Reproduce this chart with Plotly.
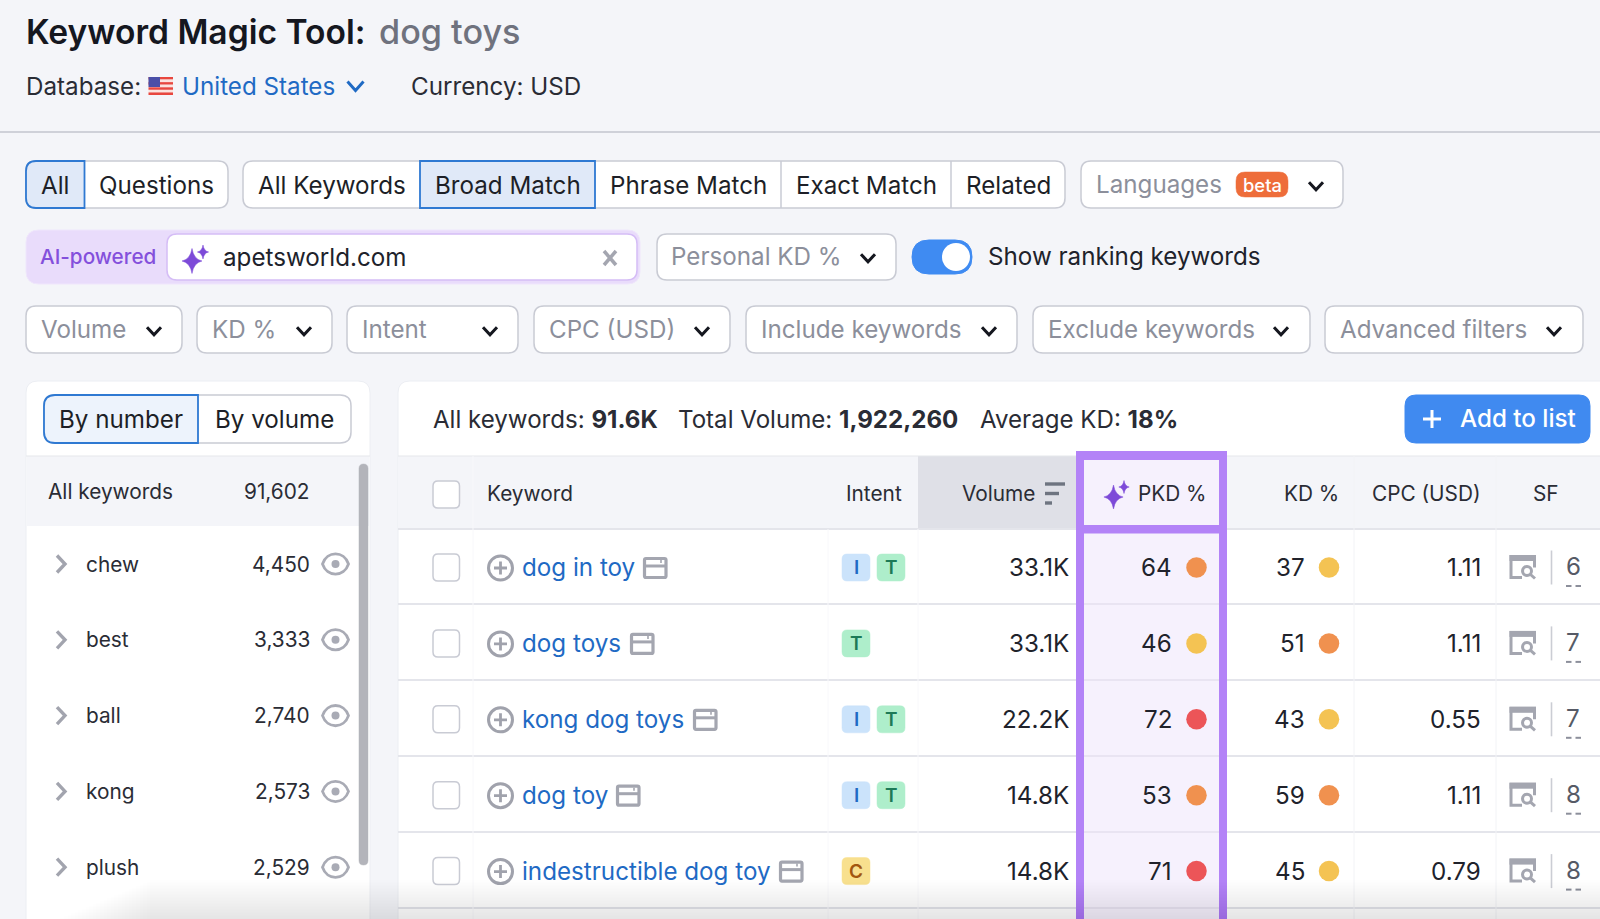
import plotly.graph_objects as go

# ---------- data ----------
keywords = ["dog in toy", "dog toys", "kong dog toys", "dog toy", "indestructible dog toy"]
intents = [["I", "T"], ["T"], ["I", "T"], ["I", "T"], ["C"]]
volumes = ["33.1K", "33.1K", "22.2K", "14.8K", "14.8K"]
pkd_values = [64, 46, 72, 53, 71]
kd_values = [37, 51, 43, 59, 45]
cpc_values = ["1.11", "1.11", "0.55", "1.11", "0.79"]
sf_values = [6, 7, 7, 8, 8]
group_names = ["chew", "best", "ball", "kong", "plush"]
group_counts = ["4,450", "3,333", "2,740", "2,573", "2,529"]
keyword_text_ends = [644, 631, 694, 617, 780]

F = "Inter"
INK = "#1d1f27"
GREY = "#8c8f9b"
BORDER = "#c9cbd4"
LINK = "#1f6ac4"
PURPLE = "#b383f7"
BG = "#f4f5f9"

shapes, notes = [], []


def rr(x0, y0, x1, y1, r=10, fill="#ffffff", line=BORDER, w=1.5, rs=None):
    tl, tr, br, bl = rs if rs else (r, r, r, r)
    d = (f"M{x0+tl},{y0} L{x1-tr},{y0} Q{x1},{y0} {x1},{y0+tr} L{x1},{y1-br} Q{x1},{y1} {x1-br},{y1} "
         f"L{x0+bl},{y1} Q{x0},{y1} {x0},{y1-bl} L{x0},{y0+tl} Q{x0},{y0} {x0+tl},{y0} Z")
    shapes.append(dict(type="path", path=d, fillcolor=fill, line=dict(color=line, width=w) if w else dict(width=0), layer="below"))


def rect(x0, y0, x1, y1, fill, layer="below"):
    shapes.append(dict(type="rect", x0=x0, y0=y0, x1=x1, y1=y1, fillcolor=fill, line=dict(width=0), layer=layer))


def hline(y, x0, x1, color, w=1.5):
    shapes.append(dict(type="line", x0=x0, x1=x1, y0=y, y1=y, line=dict(color=color, width=w), layer="below"))


def vline(x, y0, y1, color, w=1.5):
    shapes.append(dict(type="line", x0=x, x1=x, y0=y0, y1=y1, line=dict(color=color, width=w), layer="below"))


def stroke(d, color, w=2, fill="rgba(0,0,0,0)"):
    shapes.append(dict(type="path", path=d, line=dict(color=color, width=w), fillcolor=fill, layer="below"))


def circle(cx, cy, r, fill="rgba(0,0,0,0)", line=None, w=2):
    shapes.append(dict(type="circle", x0=cx-r, x1=cx+r, y0=cy-r, y1=cy+r, fillcolor=fill,
                       line=dict(color=line, width=w) if line else dict(width=0), layer="below"))


def txt(x, y, s, size=24.2, color=INK, anchor="left", weight=400):
    shift = {"left": -2.5, "right": 3, "center": 0}[anchor]
    notes.append(dict(x=x, y=y, text=s, xref="x", yref="y", showarrow=False, xanchor=anchor, yanchor="middle",
                      xshift=shift, font=dict(family=F, size=size, color=color, weight=weight), align=anchor))


def chevron(cx, cy, color="#15171f", s=7, w=3):
    stroke(f"M{cx-s},{cy-s*0.55} L{cx},{cy+s*0.55} L{cx+s},{cy-s*0.55}", color, w)


def sparkle(cx, cy, r, color):
    k = r * 0.14
    d = (f"M{cx},{cy-r} Q{cx+k},{cy-k} {cx+r*0.8},{cy} Q{cx+k},{cy+k} {cx},{cy+r} "
         f"Q{cx-k},{cy+k} {cx-r*0.8},{cy} Q{cx-k},{cy-k} {cx},{cy-r} Z")
    shapes.append(dict(type="path", path=d, fillcolor=color, line=dict(color=color, width=0.5), layer="below"))


# ---------- header ----------
txt(26, 31.5, "Keyword Magic Tool:", 33.6, "#15171f", weight=600)
txt(379, 31.5, "dog toys", 34.2, "#6f727e", weight=500)
txt(26, 86, "Database:", 24.2, "#2a2c35")
for i in range(7):
    rect(148.5, 77 + i * 18 / 7, 173, 77 + (i + 1) * 18 / 7, "#e8473f" if i % 2 == 0 else "#fbe3df")
rect(148.5, 77, 160, 87, "#4a4fa8")
txt(182, 86, "United States", 24.2, LINK)
chevron(355.5, 86, LINK, 8, 3)
txt(411, 86, "Currency: USD", 24.2, "#2a2c35")
hline(132, 0, 1600, "#cfd1d9", 2)

# ---------- tabs ----------
rr(26, 161, 228, 208, 10)
rr(26, 161, 84.5, 208, 0, "#e0e9f8", "#2f79d2", 1.8, rs=(10, 0, 0, 10))
txt(55.2, 185, "All", anchor="center")
txt(156, 185, "Questions", anchor="center")

rr(243, 161, 1065, 208, 10)
vline(781, 161, 208, BORDER)
vline(951, 161, 208, BORDER)
rr(420, 161, 595, 208, 0, "#e0e9f8", "#2f79d2", 1.8)
txt(331.5, 185, "All Keywords", anchor="center")
txt(507.5, 185, "Broad Match", anchor="center")
txt(688, 185, "Phrase Match", anchor="center")
txt(866, 185, "Exact Match", anchor="center")
txt(1008, 185, "Related", anchor="center")

rr(1081, 161, 1343, 208, 10)
txt(1096, 184, "Languages", color=GREY)
rr(1236, 172, 1288, 197, 9, "#ee6d3a", "#ee6d3a", 0.5)
txt(1262, 184.5, "beta", 18.4, "#ffffff", "center", 500)
chevron(1316, 186)

# ---------- AI row ----------
rr(26, 230, 640, 284, 13, "#e9dcfb", "#efe6fc", 1)
rr(167, 234, 637, 280, 10, "#ffffff", "#d5bdf6", 1.5)
txt(40, 256.5, "AI-powered", 20.7, "#8450dc", weight=500)
sparkle(192, 261, 12.5, "#7d4ad8")
sparkle(203, 252, 7, "#7d4ad8")
txt(223, 257, "apetsworld.com", 24.2, "#20222b")
stroke("M604,251 L616,265 M616,251 L604,265", "#a4a6b0", 3.5)

rr(657, 234, 896, 280, 10)
txt(671, 256, "Personal KD %", color=GREY)
chevron(868, 258)
rr(912, 240, 972, 274, 17, "#3f8bf2", "#3f8bf2", 1)
circle(956, 257, 14, "#ffffff")
txt(988, 256.5, "Show ranking keywords", 24.2, "#20222b")

# ---------- filters ----------
filter_labels = ["Volume", "KD %", "Intent", "CPC (USD)", "Include keywords", "Exclude keywords", "Advanced filters"]
filter_left = [26, 197, 347, 534, 746, 1033, 1325]
filter_right = [182, 332, 518, 730, 1017, 1310, 1583]
filter_chev = [154, 304, 490, 702, 989, 1281, 1554]
for lab, a, b, c in zip(filter_labels, filter_left, filter_right, filter_chev):
    rr(a, 306, b, 353, 10)
    txt(a + 15, 329, lab, color=GREY)
    chevron(c, 331)

# ---------- left card ----------
rr(26, 381, 370, 960, 12, "#ffffff", "#eceef3", 1)
rect(27, 456, 369, 526, BG)
hline(456, 26, 370, "#e6e7ec", 1.2)
rr(44, 395, 351, 443, 11)
rr(44, 395, 198, 443, 0, "#edf3fc", "#2f79d2", 1.8, rs=(11, 0, 0, 11))
txt(121, 419, "By number", anchor="center")
txt(274, 419, "By volume", anchor="center")
txt(48, 491.5, "All keywords", 20.8, "#2a2c35")
txt(309, 491.5, "91,602", 20.8, "#2a2c35", "right")
row_step = 75.8
for i, (g, c) in enumerate(zip(group_names, group_counts)):
    y = 564 + i * row_step
    stroke(f"M57,{y-8.5} L65,{y} L57,{y+8.5}", "#a2a4ae", 3.4)
    txt(86, y, g, 20.8, "#2a2c35")
    txt(309, y, c, 20.8, "#2a2c35", "right")
    stroke(f"M322.5,{y} C327,{y-13.5} 344,{y-13.5} 348.5,{y} C344,{y+13.5} 327,{y+13.5} 322.5,{y} Z", "#a9abb5", 2.8)
    circle(335.5, y, 4, "#a9abb5")
rr(359, 464, 368, 865, 4.5, "#b3b4ba", "#b3b4ba", 0.5)

# ---------- right card ----------
rr(398, 381, 1640, 960, 12, "#ffffff", "#eceef3", 1)
txt(433, 419, "All keywords: <b>91.6K</b>", 24.1, "#2a2c35")
txt(678.5, 419, "Total Volume: <b>1,922,260</b>", 24.1, "#2a2c35")
txt(980, 419, "Average KD: <b>18%</b>", 24.1, "#2a2c35")
rr(1405, 395, 1590, 443, 11, "#408af0", "#408af0", 1)
stroke("M1432,410 L1432,428 M1423,419 L1441,419", "#ffffff", 3)
txt(1460, 418.5, "Add to list", 24.2, "#ffffff", weight=500)

rect(398, 456, 1600, 528, BG)
rect(918, 456, 1076, 528, "#dfe0e7")
hline(456, 398, 1600, "#e6e7ec", 1.2)
hline(529, 398, 1600, "#e4e5eb", 2)
row_centers = [567.5 + i * 75.9 for i in range(5)]
for i in range(5):
    hline(604 + i * 76, 398, 1600, "#e4e5eb", 2)
vline(473, 456, 919, "#f8f8fb", 1)
vline(828, 529, 919, "#f8f8fb", 1)
vline(918, 529, 919, "#f8f8fb", 1)
vline(1354, 456, 919, "#f2f3f6", 1)
vline(1496, 456, 919, "#f2f3f6", 1)

# PKD column
rect(1076, 451, 1227, 919, PURPLE)
rect(1084, 460, 1219, 525, "#f6f1fd")
rect(1084, 533.5, 1219, 919, "#f6f1fd")
for i in range(5):
    hline(604 + i * 76, 1084, 1219, "#e9e4f2", 2)

# table head
rr(433, 481, 459.5, 508, 5, "#ffffff", BORDER, 1.5)
txt(487, 493.5, "Keyword", 20.8, "#2a2c35")
txt(846, 493.5, "Intent", 20.8, "#2a2c35")
txt(962, 493.5, "Volume", 20.8, "#2a2c35")
for j, (a, b) in enumerate([(1045, 1065), (1045, 1059), (1045, 1052)]):
    hline(484 + j * 9.5, a, b, "#6e7480", 3.4)
sparkle(1113.5, 497, 12, "#7d4ad8")
sparkle(1124, 487, 6.5, "#7d4ad8")
txt(1138, 493.5, "PKD %", 20.8, "#2a2c35")
txt(1338, 493.5, "KD %", 20.8, "#2a2c35", "right")
txt(1480, 493.5, "CPC (USD)", 20.8, "#2a2c35", "right")
txt(1546, 493.5, "SF", 20.8, "#2a2c35", "center")

BADGE = {"I": ("#cbe3fb", "#1f6ac4"), "T": ("#aeeecb", "#1d7a57"), "C": ("#f8e08e", "#a2560f")}


def level(v):
    return "#ec5558" if v >= 70 else ("#f0914f" if v >= 50 else "#f4c353")


for i, y in enumerate(row_centers):
    rr(433, y - 13.5, 459.5, y + 13.5, 5, "#ffffff", BORDER, 1.5)
    circle(500.5, y + 0.5, 12, "rgba(0,0,0,0)", "#a0a2ac", 3)
    stroke(f"M500.5,{y-6} L500.5,{y+7} M494,{y+0.5} L507,{y+0.5}", "#a0a2ac", 2.8)
    txt(522, y, keywords[i], 24.2, LINK)
    e = keyword_text_ends[i]
    rr(e + 0.5, y - 9, e + 22, y + 10, 1.5, "rgba(0,0,0,0)", "#a4a6b0", 3.2)
    hline(y - 1.5, e, e + 22, "#a4a6b0", 3)
    vline(e + 17, y - 7.5, y - 4.5, "#a4a6b0", 1.6)
    for j, tag in enumerate(intents[i]):
        x0 = 842 + j * 35
        fill, ink = BADGE[tag]
        rr(x0, y - 13.5, x0 + 28, y + 13.5, 5, fill, fill, 0.5)
        txt(x0 + 14, y, tag, 19, ink, "center", 600)
    txt(1068, y, volumes[i], 24.2, "#20222b", "right")
    txt(1171, y, str(pkd_values[i]), 24.2, "#20222b", "right")
    txt(1304, y, str(kd_values[i]), 24.2, "#20222b", "right")
    txt(1480, y, cpc_values[i], 24.2, "#20222b", "right")
    stroke(f"M1522,{y+10} L1511,{y+10} L1511,{y-11} L1534.5,{y-11} L1534.5,{y}", "#a4a6b0", 3)
    rect(1509.5, y - 12.5, 1536, y - 6.5, "#a4a6b0")
    circle(1527, y + 3.5, 4.5, "rgba(0,0,0,0)", "#a4a6b0", 3)
    stroke(f"M1530.5,{y+7} L1535,{y+11}", "#a4a6b0", 3)
    vline(1551.5, y - 17, y + 17, "#cbcdd4", 1.6)
    txt(1573, y - 1, str(sf_values[i]), 24.2, "#565a66", "center")
    hline(y + 18.5, 1566, 1571.5, "#8c8f9b", 2)
    hline(y + 18.5, 1575.5, 1581, "#8c8f9b", 2)

# bottom fade
for k in range(26):
    rect(150 - k * 3.6, 880 + k * 1.5, 1600, 919, "rgba(60,60,80,0.0055)", "above")

# ---------- score dots drawn from the data ----------
fig = go.Figure()
fig.add_trace(go.Scatter(x=[1196.5] * 5, y=row_centers, mode="markers", cliponaxis=False, hoverinfo="skip",
                         marker=dict(size=20.5, color=[level(v) for v in pkd_values], line=dict(width=0))))
fig.add_trace(go.Scatter(x=[1329] * 5, y=row_centers, mode="markers", cliponaxis=False, hoverinfo="skip",
                         marker=dict(size=20.5, color=[level(v) for v in kd_values], line=dict(width=0))))

fig.update_layout(
    width=1600, height=919, autosize=False, margin=dict(l=0, r=0, t=0, b=0),
    paper_bgcolor=BG, plot_bgcolor=BG, showlegend=False, hovermode=False,
    xaxis=dict(range=[0, 1600], visible=False, fixedrange=True),
    yaxis=dict(range=[919, 0], visible=False, fixedrange=True),
    shapes=shapes, annotations=notes,
)
fig.write_html("out.html", config={"displayModeBar": False},
               post_script="document.body.style.margin='0';document.documentElement.style.overflow='hidden';")
